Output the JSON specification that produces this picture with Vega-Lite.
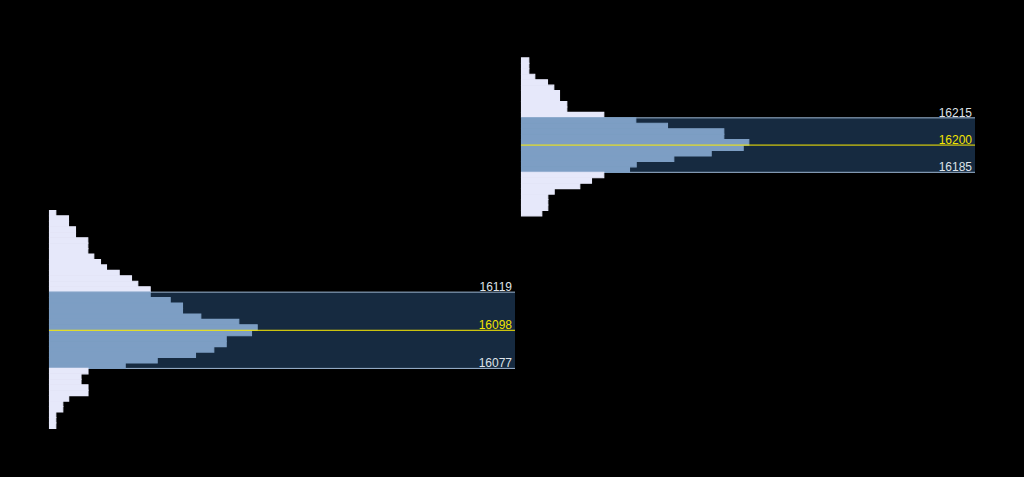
{
  "$schema": "https://vega.github.io/schema/vega-lite/v6.json",
  "background": "#000000",
  "padding": {"left": 48, "top": 0, "right": 50, "bottom": 0},
  "spacing": 6,
  "bounds": "flush",
  "config": {"view": {"stroke": null}, "text": {"font": "Liberation Sans"}},
  "datasets": {
    "sessions": [
      {"session": "S1", "va_lo": 16077, "va_hi": 16119, "poc": 16098},
      {"session": "S2", "va_lo": 16185, "va_hi": 16215, "poc": 16200}
    ],
    "levels": [
      {"session": "S1", "price": 16119, "kind": "va"},
      {"session": "S1", "price": 16098, "kind": "poc"},
      {"session": "S1", "price": 16077, "kind": "va"},
      {"session": "S2", "price": 16215, "kind": "va"},
      {"session": "S2", "price": 16200, "kind": "poc"},
      {"session": "S2", "price": 16185, "kind": "va"}
    ],
    "bins": [
      {"session": "S1", "lo": 16161, "hi": 16164, "vol": 6.8, "zone": "out"},
      {"session": "S1", "lo": 16158, "hi": 16161, "vol": 19.5, "zone": "out"},
      {"session": "S1", "lo": 16155, "hi": 16158, "vol": 19.5, "zone": "out"},
      {"session": "S1", "lo": 16152, "hi": 16155, "vol": 26.5, "zone": "out"},
      {"session": "S1", "lo": 16149, "hi": 16152, "vol": 26.5, "zone": "out"},
      {"session": "S1", "lo": 16146, "hi": 16149, "vol": 38.8, "zone": "out"},
      {"session": "S1", "lo": 16143, "hi": 16146, "vol": 38.8, "zone": "out"},
      {"session": "S1", "lo": 16140, "hi": 16143, "vol": 38.8, "zone": "out"},
      {"session": "S1", "lo": 16137, "hi": 16140, "vol": 44.8, "zone": "out"},
      {"session": "S1", "lo": 16134, "hi": 16137, "vol": 51.5, "zone": "out"},
      {"session": "S1", "lo": 16131, "hi": 16134, "vol": 57.5, "zone": "out"},
      {"session": "S1", "lo": 16128, "hi": 16131, "vol": 70.2, "zone": "out"},
      {"session": "S1", "lo": 16125, "hi": 16128, "vol": 82.5, "zone": "out"},
      {"session": "S1", "lo": 16122, "hi": 16125, "vol": 88.8, "zone": "out"},
      {"session": "S1", "lo": 16119, "hi": 16122, "vol": 101.2, "zone": "out"},
      {"session": "S1", "lo": 16116, "hi": 16119, "vol": 101.2, "zone": "va"},
      {"session": "S1", "lo": 16113, "hi": 16116, "vol": 121.2, "zone": "va"},
      {"session": "S1", "lo": 16110, "hi": 16113, "vol": 133.5, "zone": "va"},
      {"session": "S1", "lo": 16107, "hi": 16110, "vol": 133.5, "zone": "va"},
      {"session": "S1", "lo": 16104, "hi": 16107, "vol": 151.8, "zone": "va"},
      {"session": "S1", "lo": 16101, "hi": 16104, "vol": 189.8, "zone": "va"},
      {"session": "S1", "lo": 16098, "hi": 16101, "vol": 208.2, "zone": "va"},
      {"session": "S1", "lo": 16095, "hi": 16098, "vol": 202.5, "zone": "va"},
      {"session": "S1", "lo": 16092, "hi": 16095, "vol": 177.2, "zone": "va"},
      {"session": "S1", "lo": 16089, "hi": 16092, "vol": 177.2, "zone": "va"},
      {"session": "S1", "lo": 16086, "hi": 16089, "vol": 164.8, "zone": "va"},
      {"session": "S1", "lo": 16083, "hi": 16086, "vol": 146.5, "zone": "va"},
      {"session": "S1", "lo": 16080, "hi": 16083, "vol": 108.2, "zone": "va"},
      {"session": "S1", "lo": 16077, "hi": 16080, "vol": 76.2, "zone": "va"},
      {"session": "S1", "lo": 16074, "hi": 16077, "vol": 39, "zone": "out"},
      {"session": "S1", "lo": 16071, "hi": 16074, "vol": 32, "zone": "out"},
      {"session": "S1", "lo": 16068, "hi": 16071, "vol": 32, "zone": "out"},
      {"session": "S1", "lo": 16065, "hi": 16068, "vol": 39, "zone": "out"},
      {"session": "S1", "lo": 16062, "hi": 16065, "vol": 39, "zone": "out"},
      {"session": "S1", "lo": 16059, "hi": 16062, "vol": 19.7, "zone": "out"},
      {"session": "S1", "lo": 16056, "hi": 16059, "vol": 13.8, "zone": "out"},
      {"session": "S1", "lo": 16053, "hi": 16056, "vol": 13.8, "zone": "out"},
      {"session": "S1", "lo": 16050, "hi": 16053, "vol": 6.8, "zone": "out"},
      {"session": "S1", "lo": 16047, "hi": 16050, "vol": 6.8, "zone": "out"},
      {"session": "S1", "lo": 16044, "hi": 16047, "vol": 6.8, "zone": "out"},
      {"session": "S2", "lo": 16245, "hi": 16248, "vol": 7.8, "zone": "out"},
      {"session": "S2", "lo": 16242, "hi": 16245, "vol": 7.8, "zone": "out"},
      {"session": "S2", "lo": 16239, "hi": 16242, "vol": 7.8, "zone": "out"},
      {"session": "S2", "lo": 16236, "hi": 16239, "vol": 13.8, "zone": "out"},
      {"session": "S2", "lo": 16233, "hi": 16236, "vol": 26.5, "zone": "out"},
      {"session": "S2", "lo": 16230, "hi": 16233, "vol": 32.8, "zone": "out"},
      {"session": "S2", "lo": 16227, "hi": 16230, "vol": 38.5, "zone": "out"},
      {"session": "S2", "lo": 16224, "hi": 16227, "vol": 38.5, "zone": "out"},
      {"session": "S2", "lo": 16221, "hi": 16224, "vol": 45.8, "zone": "out"},
      {"session": "S2", "lo": 16218, "hi": 16221, "vol": 45.8, "zone": "out"},
      {"session": "S2", "lo": 16215, "hi": 16218, "vol": 82.8, "zone": "out"},
      {"session": "S2", "lo": 16212, "hi": 16215, "vol": 114.8, "zone": "va"},
      {"session": "S2", "lo": 16209, "hi": 16212, "vol": 146.5, "zone": "va"},
      {"session": "S2", "lo": 16206, "hi": 16209, "vol": 202.8, "zone": "va"},
      {"session": "S2", "lo": 16203, "hi": 16206, "vol": 202.8, "zone": "va"},
      {"session": "S2", "lo": 16200, "hi": 16203, "vol": 227.8, "zone": "va"},
      {"session": "S2", "lo": 16197, "hi": 16200, "vol": 222.2, "zone": "va"},
      {"session": "S2", "lo": 16194, "hi": 16197, "vol": 190.2, "zone": "va"},
      {"session": "S2", "lo": 16191, "hi": 16194, "vol": 152.8, "zone": "va"},
      {"session": "S2", "lo": 16188, "hi": 16191, "vol": 115.2, "zone": "va"},
      {"session": "S2", "lo": 16185, "hi": 16188, "vol": 108.5, "zone": "va"},
      {"session": "S2", "lo": 16182, "hi": 16185, "vol": 82.8, "zone": "out"},
      {"session": "S2", "lo": 16179, "hi": 16182, "vol": 70.5, "zone": "out"},
      {"session": "S2", "lo": 16176, "hi": 16179, "vol": 58.8, "zone": "out"},
      {"session": "S2", "lo": 16173, "hi": 16176, "vol": 33.2, "zone": "out"},
      {"session": "S2", "lo": 16170, "hi": 16173, "vol": 26.8, "zone": "out"},
      {"session": "S2", "lo": 16167, "hi": 16170, "vol": 26.8, "zone": "out"},
      {"session": "S2", "lo": 16164, "hi": 16167, "vol": 26.8, "zone": "out"},
      {"session": "S2", "lo": 16161, "hi": 16164, "vol": 20.8, "zone": "out"}
    ]
  },
  "hconcat": [
    {
      "width": 466,
      "height": 477,
      "layer": [
        {
          "data": {"name": "sessions"},
          "transform": [{"filter": "datum.session === 'S1'"}],
          "mark": {"type": "rect", "color": "#162a40"},
          "encoding": {
            "x": {"value": 0},
            "x2": {"value": "width"},
            "y": {"field": "va_lo", "type": "quantitative", "scale": {"domain": [16017.2, 16279.9], "nice": false, "zero": false}, "axis": null},
            "y2": {"field": "va_hi"}
          }
        },
        {
          "data": {"name": "levels"},
          "transform": [{"filter": "datum.session === 'S1' && datum.kind === 'va'"}],
          "mark": {"type": "rule", "strokeWidth": 1, "color": "#9fb8d4"},
          "encoding": {
            "x": {"value": 0},
            "x2": {"value": "width"},
            "y": {"field": "price", "type": "quantitative", "axis": null}
          }
        },
        {
          "data": {"name": "bins"},
          "transform": [{"filter": "datum.session === 'S1'"}],
          "mark": {"type": "rect", "strokeWidth": 1.1},
          "encoding": {
            "x": {"field": "vol", "type": "quantitative", "scale": {"domain": [0, 466], "nice": false, "zero": true}, "axis": null},
            "x2": {"value": 0.5},
            "y": {"field": "lo", "type": "quantitative", "axis": null},
            "y2": {"field": "hi"},
            "fill": {"condition": {"test": "datum.zone === 'va'", "value": "#7d9ec4"}, "value": "#e6e8fa"},
            "stroke": {"condition": {"test": "datum.zone === 'va'", "value": "#7d9ec4"}, "value": "#e6e8fa"}
          }
        },
        {
          "data": {"name": "levels"},
          "transform": [{"filter": "datum.session === 'S1' && datum.kind === 'poc'"}],
          "mark": {"type": "rule", "strokeWidth": 1, "color": "#ffee00"},
          "encoding": {
            "x": {"value": 0},
            "x2": {"value": "width"},
            "y": {"field": "price", "type": "quantitative", "axis": null}
          }
        },
        {
          "data": {"name": "levels"},
          "transform": [{"filter": "datum.session === 'S1'"}],
          "mark": {"type": "text", "align": "right", "baseline": "alphabetic", "dx": -3, "dy": -1, "fontSize": 12},
          "encoding": {
            "x": {"value": "width"},
            "y": {"field": "price", "type": "quantitative", "axis": null},
            "text": {"field": "price", "type": "quantitative", "format": "d"},
            "color": {"condition": {"test": "datum.kind === 'poc'", "value": "#f2e400"}, "value": "#dfe4ea"}
          }
        }
      ]
    },
    {
      "width": 454,
      "height": 477,
      "layer": [
        {
          "data": {"name": "sessions"},
          "transform": [{"filter": "datum.session === 'S2'"}],
          "mark": {"type": "rect", "color": "#162a40"},
          "encoding": {
            "x": {"value": 0},
            "x2": {"value": "width"},
            "y": {"field": "va_lo", "type": "quantitative", "scale": {"domain": [16017.2, 16279.9], "nice": false, "zero": false}, "axis": null},
            "y2": {"field": "va_hi"}
          }
        },
        {
          "data": {"name": "levels"},
          "transform": [{"filter": "datum.session === 'S2' && datum.kind === 'va'"}],
          "mark": {"type": "rule", "strokeWidth": 1, "color": "#9fb8d4"},
          "encoding": {
            "x": {"value": 0},
            "x2": {"value": "width"},
            "y": {"field": "price", "type": "quantitative", "axis": null}
          }
        },
        {
          "data": {"name": "bins"},
          "transform": [{"filter": "datum.session === 'S2'"}],
          "mark": {"type": "rect", "strokeWidth": 1.1},
          "encoding": {
            "x": {"field": "vol", "type": "quantitative", "scale": {"domain": [0, 454], "nice": false, "zero": true}, "axis": null},
            "x2": {"value": 0.5},
            "y": {"field": "lo", "type": "quantitative", "axis": null},
            "y2": {"field": "hi"},
            "fill": {"condition": {"test": "datum.zone === 'va'", "value": "#7d9ec4"}, "value": "#e6e8fa"},
            "stroke": {"condition": {"test": "datum.zone === 'va'", "value": "#7d9ec4"}, "value": "#e6e8fa"}
          }
        },
        {
          "data": {"name": "levels"},
          "transform": [{"filter": "datum.session === 'S2' && datum.kind === 'poc'"}],
          "mark": {"type": "rule", "strokeWidth": 1, "color": "#ffee00"},
          "encoding": {
            "x": {"value": 0},
            "x2": {"value": "width"},
            "y": {"field": "price", "type": "quantitative", "axis": null}
          }
        },
        {
          "data": {"name": "levels"},
          "transform": [{"filter": "datum.session === 'S2'"}],
          "mark": {"type": "text", "align": "right", "baseline": "alphabetic", "dx": -3, "dy": -1, "fontSize": 12},
          "encoding": {
            "x": {"value": "width"},
            "y": {"field": "price", "type": "quantitative", "axis": null},
            "text": {"field": "price", "type": "quantitative", "format": "d"},
            "color": {"condition": {"test": "datum.kind === 'poc'", "value": "#f2e400"}, "value": "#dfe4ea"}
          }
        }
      ]
    }
  ]
}
